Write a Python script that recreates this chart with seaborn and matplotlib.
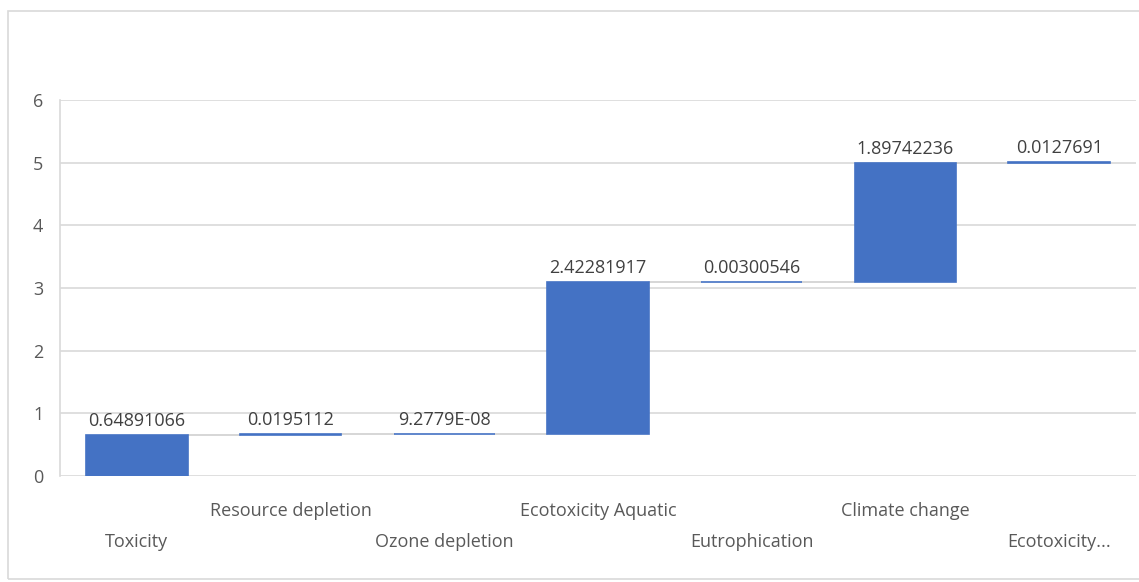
import numpy as np
import pandas as pd
import matplotlib
matplotlib.use("Agg")
import matplotlib.pyplot as plt
import seaborn as sns
from matplotlib.patches import Rectangle

categories = ["Toxicity", "Resource depletion", "Ozone depletion", "Ecotoxicity Aquatic",
              "Eutrophication", "Climate change", "Ecotoxicity..."]
values = [0.64891066, 0.0195112, 9.2779E-08, 2.42281917, 0.00300546, 1.89742236, 0.0127691]
value_labels = ["0.64891066", "0.0195112", "9.2779E-08", "2.42281917", "0.00300546",
                "1.89742236", "0.0127691"]
yticks = [0, 1, 2, 3, 4, 5, 6]

sns.set_theme(style="white")
plt.rcParams['font.family'] = ['Open Sans', 'DejaVu Sans']

ends = np.cumsum(values)
starts = ends - np.array(values)
df = pd.DataFrame({"cat": categories, "val": values, "start": starts, "end": ends})

fig = plt.figure(figsize=(11.39, 5.82), dpi=100)
ax = fig.add_axes([60/1139, 1 - 476/582, 1076/1139, 376/582])

blue = "#4472C4"
sns.barplot(data=df, x="cat", y="val", order=categories, bottom=df["start"].values,
            color=blue, saturation=1, width=0.66, edgecolor=blue, linewidth=1.2, ax=ax, zorder=3)

ax.set_ylim(0, 6)
ax.set_xlim(-0.5, len(categories) - 0.5)
ax.set_yticks(yticks)
ax.yaxis.grid(True, color="#d9d9d9", linewidth=1.2, zorder=0)
ax.set_axisbelow(True)
for s in ["top", "right", "bottom"]:
    ax.spines[s].set_visible(False)
ax.spines["left"].set_color("#d9d9d9")
ax.spines["left"].set_linewidth(1.2)
ax.set_xlabel("")
ax.set_ylabel("")
ax.tick_params(axis="y", length=0, labelsize=13, labelcolor="#595959", pad=12)
ax.tick_params(axis="x", length=0)
ax.set_xticks(range(len(categories)))
ax.set_xticklabels([])

# staggered category labels
for i, c in enumerate(categories):
    yoff = -47.5 if i % 2 == 0 else -25
    ax.annotate(c, xy=(i, 0), xytext=(0, yoff), textcoords="offset points", ha="center",
                va="center", fontsize=13, color="#595959", annotation_clip=False)

# connector lines
hw = 0.33
for i in range(len(categories) - 1):
    ax.plot([i + hw, i + 1 - hw], [ends[i], ends[i]], color="#d0d0d0", linewidth=1.2, zorder=2)

# value labels
for i, lab in enumerate(value_labels):
    ax.annotate(lab, xy=(i, ends[i]), xytext=(0, 4), textcoords="offset points", ha="center",
                va="bottom", fontsize=13, color="#404040")

# outer chart border
fig.add_artist(Rectangle((8/1139, 3/582), 1.0, 568/582, transform=fig.transFigure,
                         fill=False, edgecolor="#d9d9d9", linewidth=1.2))

fig.savefig("out.png", dpi=100)
